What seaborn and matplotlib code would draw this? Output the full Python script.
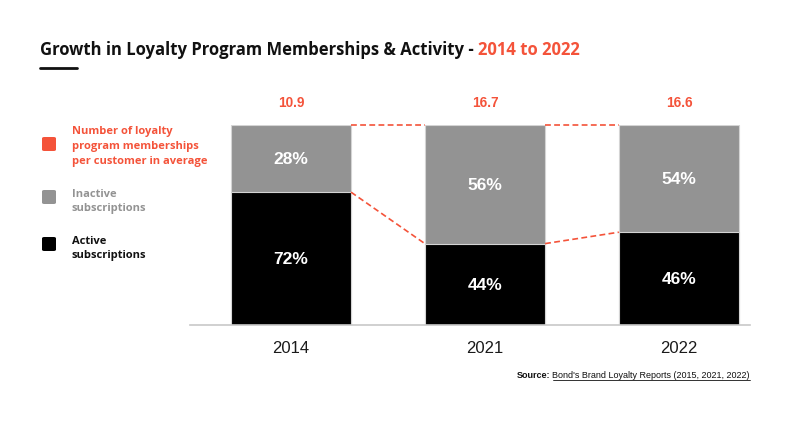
import pandas as pd
import matplotlib.pyplot as plt
import seaborn as sns

# Data
years = ['2014', '2021', '2022']
active_labels = ['72%', '44%', '46%']
inactive_labels = ['28%', '56%', '54%']
# segment heights as they are drawn in the reference (share of a 100 bar)
active_drawn = [66.4, 40.7, 46.4]
memberships = [10.9, 16.7, 16.6]

RED = '#F4533A'
GRAY = '#939393'
BLACK = '#000000'

sns.set_style('white')
plt.rcParams['font.family'] = ['Open Sans', 'DejaVu Sans']
HELV = ['Liberation Sans', 'DejaVu Sans']

df = pd.DataFrame({'year': years, 'active': active_drawn})
df['total'] = 100

fig = plt.figure(figsize=(7.98, 4.31), dpi=100)
ax = fig.add_axes([0.2381, 0.2436, 0.7018, 0.4641])

# stacked bars: full-height gray, black active part drawn over it
sns.barplot(data=df, x='year', y='total', color=GRAY, width=0.62,
            edgecolor='#d4d4d4', linewidth=0.8, saturation=1, ax=ax)
sns.barplot(data=df, x='year', y='active', color=BLACK, width=0.62,
            edgecolor='#d4d4d4', linewidth=0.8, saturation=1, ax=ax)

ax.set_ylim(0, 100)
ax.set_xlim(-0.52, 2.366)
ax.set_xlabel('')
ax.set_ylabel('')
ax.set_yticks([])
for s in ['top', 'right', 'left']:
    ax.spines[s].set_visible(False)
ax.spines['bottom'].set_color('#c8c8c8')
ax.spines['bottom'].set_linewidth(1.2)
ax.tick_params(axis='x', length=0, pad=11, labelsize=12, colors='#1a1a1a')
for lbl in ax.get_xticklabels():
    lbl.set_family(HELV)

n = len(years)
gray_bars = ax.patches[:n]

# labels inside bars and numbers above
for i in range(n):
    gb = gray_bars[i]
    cx = gb.get_x() + gb.get_width() / 2
    a = active_drawn[i]
    ax.text(cx, a / 2, active_labels[i], color='white', ha='center',
            va='center', fontsize=12.5, fontweight='bold', family=HELV)
    ax.text(cx, a + (100 - a) / 2, inactive_labels[i], color='white',
            ha='center', va='center', fontsize=12.5, fontweight='bold', family=HELV)
    ax.text(cx, 111.5, f'{memberships[i]}', color=RED, ha='center', va='center',
            fontsize=9.8, fontweight='bold', clip_on=False, family=HELV)

# dashed connectors between neighbouring bars
for i in range(n - 1):
    r = gray_bars[i].get_x() + gray_bars[i].get_width()
    l = gray_bars[i + 1].get_x()
    ax.plot([r, l], [100, 100], color=RED, lw=1.2, clip_on=False,
            dashes=(3.5, 2))
    ax.plot([r, l], [active_drawn[i], active_drawn[i + 1]], color=RED, lw=1.2,
            dashes=(3.5, 2))

# title
t1 = fig.text(40 / 798, 1 - 50 / 431, 'Growth in Loyalty Program Memberships & Activity - ',
              fontsize=12, fontweight='bold', color='#111111', va='center')
fig.canvas.draw()
bb = t1.get_window_extent()
fig.text(bb.x1 / 798, 1 - 50 / 431, '2014 to 2022', fontsize=12,
         fontweight='bold', color=RED, va='center')
fig.add_artist(plt.Line2D([40 / 798, 77 / 798], [1 - 69 / 431] * 2,
                          color='#111111', lw=2))

# legend
legend_items = [
    (RED, RED, 'Number of loyalty\nprogram memberships\nper customer in average', 145, 145),
    (GRAY, GRAY, 'Inactive\nsubscriptions', 198, 200),
    (BLACK, '#111111', 'Active\nsubscriptions', 245, 247),
]
for fc, tc, label, yb, yt in legend_items:
    box = plt.matplotlib.patches.FancyBboxPatch(
        (42 / 798, 1 - (yb + 7) / 431), 14 / 798, 14 / 431,
        boxstyle='round,pad=0,rounding_size=0.003', transform=fig.transFigure,
        facecolor=fc, edgecolor='none')
    fig.add_artist(box)
    fig.text(72 / 798, 1 - (yt + 1.5) / 431, label, color=tc, fontsize=8,
             fontweight='bold', va='center', linespacing=1.45)

# source line
src = fig.text(750 / 798, 1 - 376 / 431, "Bond's Brand Loyalty Reports (2015, 2021, 2022)",
               fontsize=6.5, color='#111111', ha='right', va='center', family=HELV)
fig.canvas.draw()
sb = src.get_window_extent()
fig.text(sb.x0 / 798 - 0.003, 1 - 376 / 431, 'Source:', fontsize=6.5,
         fontweight='bold', color='#111111', ha='right', va='center', family=HELV)
fig.add_artist(plt.Line2D([sb.x0 / 798, sb.x1 / 798],
                          [(sb.y0 - 0.5) / 431] * 2, color='#111111', lw=0.6))

fig.savefig('out.png', dpi=100, facecolor='white')
